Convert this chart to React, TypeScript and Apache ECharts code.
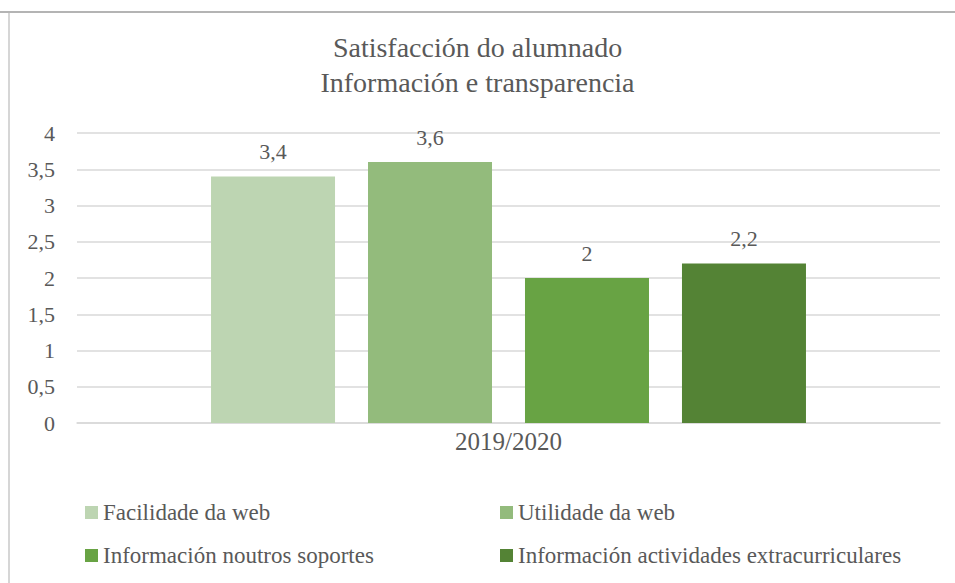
import React, { useEffect, useRef } from "react";
import * as echarts from "echarts";

const categories = ["2019/2020"];
const seriesNames = [
  "Facilidade da web",
  "Utilidade da web",
  "Información noutros soportes",
  "Información actividades extracurriculares",
];
const seriesValues = [[3.4], [3.6], [2], [2.2]];
const seriesColors = ["#BDD5B2", "#93BB7C", "#68A344", "#548335"];
const yTicks = { min: 0, max: 4, interval: 0.5 };

const FONT = "Liberation Serif";
const TXT = "#595959";
const fmt = (v: number) => String(v).replace(".", ",");

const legendPos = [
  { left: 80, top: 496 },
  { left: 495, top: 496 },
  { left: 80, top: 539 },
  { left: 495, top: 539 },
];

export default function App() {
  const ref = useRef<HTMLDivElement>(null);
  useEffect(() => {
    if (!ref.current) return;
    const chart = echarts.init(ref.current, null, { renderer: "svg" });
    chart.setOption({
      animation: false,
      backgroundColor: "#ffffff",
      textStyle: { fontFamily: FONT },
      title: {
        text: "Satisfacción do alumnado\nInformación e transparencia",
        left: "center",
        top: 25,
        textStyle: {
          fontFamily: FONT,
          fontSize: 28,
          fontWeight: "normal",
          color: TXT,
          lineHeight: 35,
        },
      },
      legend: seriesNames.map((n, i) => ({
        data: [n],
        left: legendPos[i].left,
        top: legendPos[i].top,
        icon: "rect",
        itemWidth: 13,
        itemHeight: 13,
        itemGap: 5,
        textStyle: { fontFamily: FONT, fontSize: 23, color: TXT },
        selectedMode: false,
      })),
      grid: { left: 77, right: 15, top: 133, bottom: 160, containLabel: false },
      xAxis: {
        type: "category",
        data: categories,
        axisLine: { lineStyle: { color: "#d9d9d9", width: 1.5 } },
        axisTick: { show: false },
        axisLabel: { fontFamily: FONT, fontSize: 25, color: TXT, margin: 6 },
      },
      yAxis: {
        type: "value",
        min: yTicks.min,
        max: yTicks.max,
        interval: yTicks.interval,
        axisLine: { show: false },
        axisTick: { show: false },
        splitLine: { lineStyle: { color: "#d9d9d9", width: 1.5 } },
        axisLabel: {
          fontFamily: FONT,
          fontSize: 22,
          color: TXT,
          margin: 22,
          formatter: (v: number) => fmt(v),
        },
      },
      series: seriesNames.map((n, i) => ({
        type: "bar",
        name: n,
        data: seriesValues[i],
        barWidth: 124,
        barGap: "26.6%",
        itemStyle: { color: seriesColors[i] },
        label: {
          show: true,
          position: "top",
          distance: 14,
          fontFamily: FONT,
          fontSize: 22,
          color: TXT,
          formatter: (p: any) => fmt(p.value),
        },
      })),
      graphic: [
        { type: "line", shape: { x1: 0, y1: 12, x2: 955, y2: 12 }, style: { stroke: "#b4b4b4", lineWidth: 2 } },
        { type: "line", shape: { x1: 9, y1: 13, x2: 9, y2: 583 }, style: { stroke: "#d6d6d6", lineWidth: 2 } },
      ],
    });
    return () => chart.dispose();
  }, []);
  return (
    <div
      ref={ref}
      style={{ position: "absolute", left: 0, top: 0, width: 955, height: 583 }}
    />
  );
}
